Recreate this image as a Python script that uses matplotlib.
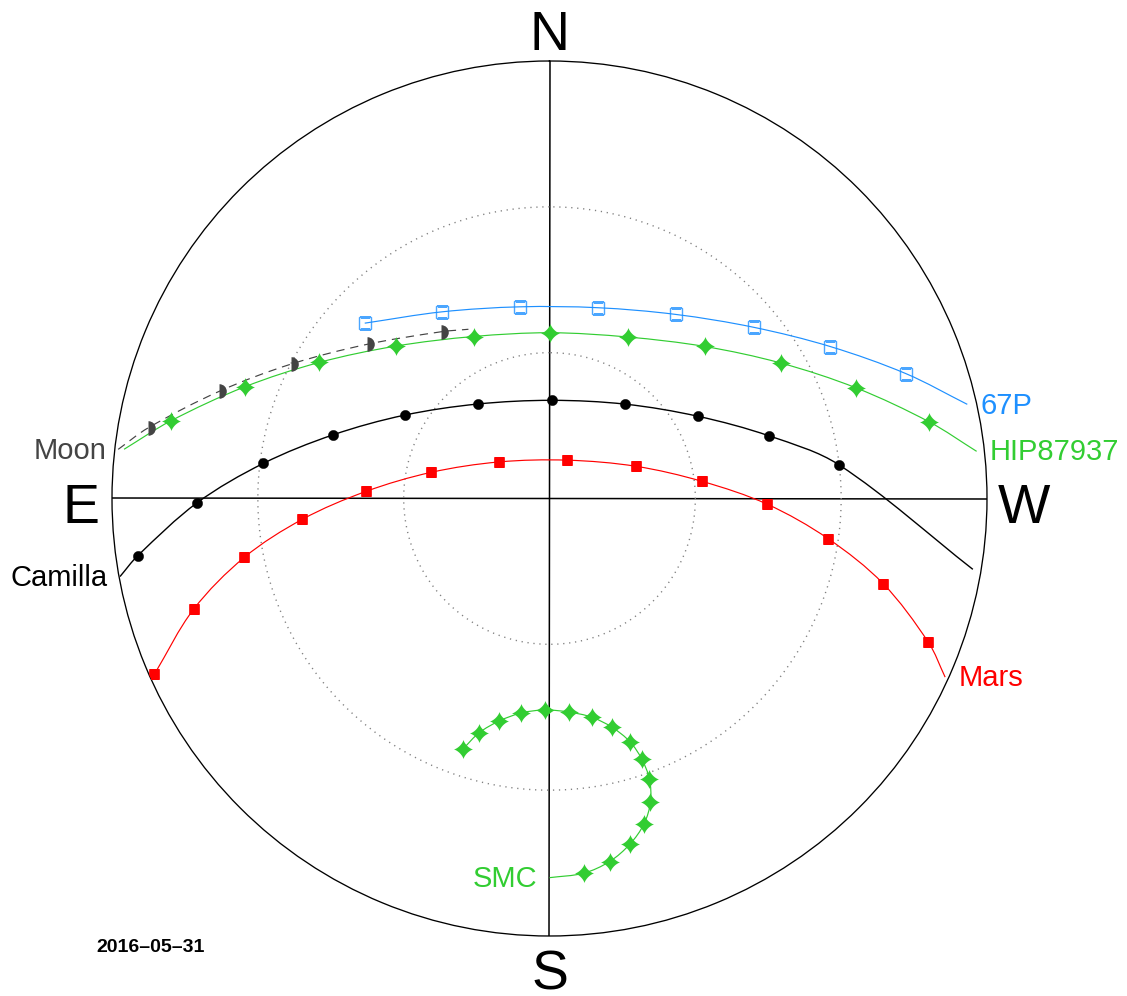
import numpy as np
import matplotlib
matplotlib.use("Agg")
import matplotlib.pyplot as plt
from matplotlib.path import Path
from matplotlib.patches import PathPatch
from matplotlib.transforms import IdentityTransform

plt.rcParams['font.family'] = ['Liberation Sans', 'DejaVu Sans']

# ---------------- data: azimuth (deg, N=0, E=90) / altitude (deg) -------------
# hourly marker positions, plus the ends of each drawn track
mars_az  = [114.0, 107.3, 100.9, 94.8, 87.8, 77.5, 54.0, -25.0, -69.6, -83.6, -91.5, -98.2, -104.3, -110.8]
mars_alt = [1.0, 13.3, 26.1, 39.0, 52.2, 65.1, 77.2, 81.3, 71.0, 58.4, 45.2, 32.1, 19.2, 6.6]
mars_end = (-114.3, 0.7)

camilla_az  = [97.9, 90.7, 83.0, 73.6, 60.1, 37.2, -1.3, -38.8, -61.0, -74.1, -83.4]
camilla_alt = [4.5, 17.5, 30.7, 43.6, 55.6, 65.6, 69.8, 65.1, 55.1, 43.0, 30.0]
camilla_start = (100.3, 0.2)
camilla_end = (-99.5, 1.7)

hip_az  = [78.4, 69.9, 59.4, 45.2, 25.1, -0.2, -25.8, -45.6, -59.6, -70.2, -78.6]
hip_alt = [10.5, 23.2, 35.0, 45.5, 53.2, 55.9, 53.1, 45.3, 34.9, 22.9, 10.3]
hip_start = (83.4, 1.9)
hip_end = (-83.7, 1.6)

p67_az  = [46.5, 29.9, 8.8, -14.3, -34.4, -50.0, -61.6, -70.7]
p67_alt = [37.6, 45.7, 50.1, 49.5, 44.1, 35.2, 24.3, 12.3]
p67_end = (-77.3, 1.9)

moon_az  = [80.0, 72.0, 62.5, 49.9, 33.0]
moon_alt = [6.2, 18.6, 30.1, 40.8, 49.1]
moon_start = (83.5, 0.7)
moon_end = (25.6, 51.4)

smc_az  = [161.0, 163.3, 167.3, 172.5, 178.7, 185.1, 190.9, 195.3, 198.3, 199.5, 199.6, 198.4, 196.2, 193.1, 189.4, 185.2]
smc_alt = [35.6, 39.7, 43.1, 45.5, 46.5, 45.9, 44.2, 41.2, 37.3, 33.1, 28.7, 24.2, 20.3, 17.0, 14.3, 12.6]
smc_end = (180.0, 12.0)

alt_rings = [30, 60]
date_label = "2016\u201305\u201331"

# ---------------- styles ----------------
RED = '#FF0000'
GREEN = '#32CD32'
BLUE = '#1E90FF'
MOON = '#444444'

# four-pointed sparkle marker
t = np.linspace(0, 2 * np.pi, 145)
sx = np.sign(np.cos(t)) * np.abs(np.cos(t)) ** 2.8
sy = np.sign(np.sin(t)) * np.abs(np.sin(t)) ** 2.8
STAR = Path(np.column_stack([sx, sy]))


def th(a):
    return np.deg2rad(np.asarray(a, dtype=float))


def zd(a):
    return 90.0 - np.asarray(a, dtype=float)


fig = plt.figure(figsize=(11.27, 9.96), dpi=100)
ax = fig.add_axes([112 / 1127, 60 / 996, 875 / 1127, 875 / 996], projection='polar')
ax.set_theta_zero_location('N')
ax.set_theta_direction(1)
ax.set_rlim(0, 90)
ax.set_xticks([])
ax.set_yticks([])
ax.grid(False)
ax.spines['polar'].set_color('black')
ax.spines['polar'].set_linewidth(0.95)

# cross (N-S and E-W), straight chords through the zenith
ax.plot(th([0, 180]), [90, 90], color='black', lw=1.1, zorder=1, solid_capstyle='butt')
ax.plot(th([90, 270]), [90, 90], color='black', lw=1.1, zorder=1, solid_capstyle='butt')

# altitude rings
ring_t = np.linspace(0, 2 * np.pi, 721)
for a in alt_rings:
    ax.plot(ring_t, np.full_like(ring_t, 90 - a), color='#808080', lw=1.0,
            linestyle=(0, (0.9, 3.4)), zorder=1)


def track(az, alt, start=None, end=None):
    taz = list(az)
    talt = list(alt)
    if start is not None:
        taz = [start[0]] + taz
        talt = [start[1]] + talt
    if end is not None:
        taz = taz + [end[0]]
        talt = talt + [end[1]]
    return th(taz), zd(talt)


def smooth_track(theta, r, **kw):
    """Draw a smooth curve through the track points (display-space cubic)."""
    P = ax.transData.transform(np.column_stack([theta, r]))
    n = len(P)
    d = np.hypot(*np.diff(P, axis=0).T)
    T = np.zeros_like(P)
    T[0] = (P[1] - P[0]) / d[0]
    T[-1] = (P[-1] - P[-2]) / d[-1]
    for i in range(1, n - 1):
        T[i] = (P[i + 1] - P[i - 1]) / (d[i - 1] + d[i])
    verts = [P[0]]
    codes = [Path.MOVETO]
    for i in range(n - 1):
        verts += [P[i] + T[i] * d[i] / 3, P[i + 1] - T[i + 1] * d[i] / 3, P[i + 1]]
        codes += [Path.CURVE4] * 3
    patch = PathPatch(Path(verts, codes), fill=False, transform=IdentityTransform(),
                      **kw)
    patch.set_clip_path(ax.patch)
    ax.add_artist(patch)


# Mars
smooth_track(*track(mars_az, mars_alt, end=mars_end), edgecolor=RED, lw=0.85, zorder=2)
ax.plot(th(mars_az), zd(mars_alt), ls='none', marker='s', ms=7.6, mfc=RED, mec=RED,
        mew=0.5, zorder=3)

# Camilla
smooth_track(*track(camilla_az, camilla_alt, camilla_start, camilla_end),
             edgecolor='black', lw=1.0, zorder=2)
ax.plot(th(camilla_az), zd(camilla_alt), ls='none', marker='o', ms=7.4, mfc='black',
        mec='black', mew=0.3, zorder=3)

# HIP87937
smooth_track(*track(hip_az, hip_alt, hip_start, hip_end), edgecolor=GREEN, lw=0.85,
             zorder=2)
ax.plot(th(hip_az), zd(hip_alt), ls='none', marker=STAR, ms=14, mfc=GREEN, mec='none',
        zorder=3)

# 67P
smooth_track(*track(p67_az, p67_alt, end=p67_end), edgecolor=BLUE, lw=0.85, zorder=2)
ax.plot(th(p67_az), zd(p67_alt), ls='none', marker='s', ms=8.0, mfc='none', mec=BLUE,
        mew=1.0, alpha=0.8, zorder=3)

# Moon
smooth_track(*track(moon_az, moon_alt, moon_start, moon_end), edgecolor=MOON, lw=0.85,
             linestyle=(0, (7, 5)), zorder=2)
ax.plot(th(moon_az), zd(moon_alt), ls='none', marker='o', ms=10.5, fillstyle='right',
        mfc=MOON, mfcalt='none', mec='none', zorder=3)

# SMC
smooth_track(*track(smc_az, smc_alt, end=smc_end), edgecolor=GREEN, lw=0.85, zorder=2)
ax.plot(th(smc_az), zd(smc_alt), ls='none', marker=STAR, ms=14, mfc=GREEN, mec='none',
        zorder=3)

# ---------------- labels ----------------
LBL = 21


def label(txt, pt, dx, dy, ha, color):
    ax.annotate(txt, xy=(np.deg2rad(pt[0]), 90 - pt[1]), xycoords='data',
                xytext=(dx, dy), textcoords='offset pixels', ha=ha, va='baseline',
                fontsize=LBL, color=color, annotation_clip=False, zorder=5)


label('Moon', moon_start, -12, -9.6, 'right', MOON)
label('Camilla', camilla_start, -12, -9, 'right', 'black')
label('67P', p67_end, 13.4, -9.3, 'left', BLUE)
label('HIP87937', hip_end, 13.3, -9, 'left', GREEN)
label('Mars', mars_end, 13, -8.4, 'left', RED)
label('SMC', smc_end, -12, -9, 'right', GREEN)

# cardinal directions
CARD = 40
ax.annotate('N', xy=(0, 90), xytext=(0, 11), textcoords='offset pixels', ha='center',
            va='baseline', fontsize=CARD, annotation_clip=False)
ax.annotate('S', xy=(np.pi, 90), xytext=(0, -54), textcoords='offset pixels', ha='center',
            va='baseline', fontsize=CARD, annotation_clip=False)
ax.annotate('E', xy=(np.pi / 2, 90), xytext=(-12, -24.5), textcoords='offset pixels',
            ha='right', va='baseline', fontsize=CARD, annotation_clip=False)
ax.annotate('W', xy=(3 * np.pi / 2, 90), xytext=(11, -24.5), textcoords='offset pixels',
            ha='left', va='baseline', fontsize=CARD, annotation_clip=False)

fig.text(96 / 1127, 43.7 / 996, date_label, ha='left', va='baseline', fontsize=14,
         fontweight='bold')

fig.savefig('out.png', dpi=100)
